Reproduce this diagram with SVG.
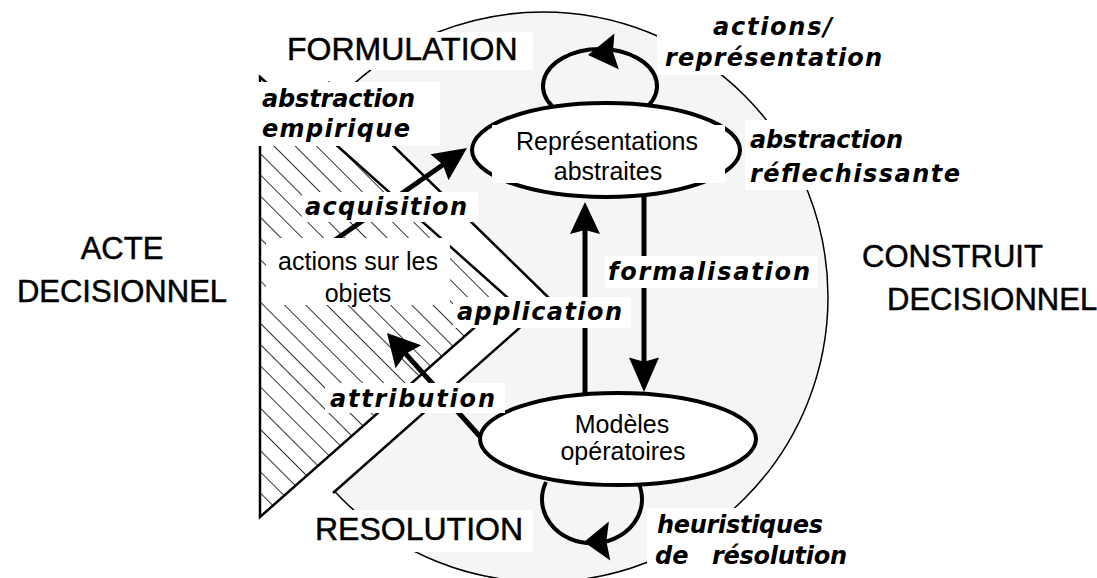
<svg xmlns="http://www.w3.org/2000/svg" width="1097" height="578" viewBox="0 0 1097 578">
<style>
.lbl{font-family:"DejaVu Sans",sans-serif;font-weight:bold;font-style:italic;font-size:24px;fill:#000}
.big{font-family:"Liberation Sans",Arial,sans-serif;font-size:32px;fill:#000;stroke:#000;stroke-width:0.5}
.big31{font-family:"Liberation Sans",Arial,sans-serif;font-size:31px;fill:#000;stroke:#000;stroke-width:0.5}
.node{font-family:"Liberation Sans",Arial,sans-serif;font-size:25px;fill:#000;text-anchor:middle}
.box{fill:#fff}
.ell{fill:#fff;stroke:#000;stroke-width:4}
.conn{fill:none;stroke:#000;stroke-width:5}
.loop{fill:none;stroke:#000;stroke-width:4}
.edge{fill:none;stroke:#000;stroke-width:2.5}
.ah{fill:#000}
</style>
<defs>
<pattern id="hatch" patternUnits="userSpaceOnUse" width="15" height="15" patternTransform="rotate(-45)">
<rect width="15" height="15" fill="#fff"/>
<line x1="0" y1="0" x2="0" y2="15" stroke="#000" stroke-width="1.6"/>
</pattern>
<path id="ah" d="M0,0 L-32,-15 L-28,0 L-32,15 Z"/>
</defs>
<rect width="1097" height="578" fill="#fff"/>

<g id="construit-region">
<circle cx="543" cy="297" r="285" fill="#f5f5f5" stroke="#000" stroke-width="1.5"/>
<polygon points="328,82 551,300 333,493 250,493 250,82" fill="#fff"/>
</g>

<g id="acte-region">
<polygon points="260,77 508,298 260,517" fill="url(#hatch)" stroke="#000" stroke-width="2.5"/>
<polyline class="edge" points="328,82 551,300 333,493"/>
</g>

<g id="connectors">
<path class="loop" d="M552,106 A57,37 0 1 1 648,106"/>
<path class="loop" d="M546,482 A50,44 0 1 0 638,482"/>
<use href="#ah" class="ah" transform="translate(588,55) rotate(173) scale(0.9,1.2)"/>
<use href="#ah" class="ah" transform="translate(584,542) rotate(178) scale(0.8,1.3)"/>
<line class="conn" x1="585" y1="396" x2="585" y2="226"/>
<use href="#ah" class="ah" transform="translate(585,202) rotate(-90)"/>
<line class="conn" x1="644" y1="193" x2="644" y2="366"/>
<use href="#ah" class="ah" transform="translate(644,392) rotate(90) scale(1.08,1)"/>
<line class="conn" x1="335" y1="240" x2="447.3" y2="161.8"/>
<use href="#ah" class="ah" transform="translate(467,148) rotate(-35) scale(1.05,1.05)"/>
<line class="conn" stroke-width="6" x1="484" y1="441" x2="403" y2="350.8"/>
<use href="#ah" class="ah" transform="translate(387,333) rotate(228) scale(1,1.15)"/>
</g>

<g id="node-representations">
<ellipse class="ell" cx="606" cy="150" rx="134" ry="47"/>
<rect class="box" x="492" y="125" width="233" height="58"/>
<text class="node" x="607" y="150">Représentations</text>
<text class="node" x="608" y="180">abstraites</text>
</g>

<g id="node-modeles">
<ellipse class="ell" cx="618" cy="439" rx="138" ry="46"/>
<text class="node" x="622" y="433">Modèles</text>
<text class="node" x="623" y="460">opératoires</text>
</g>

<g id="node-actions-objets">
<rect class="box" x="266" y="238" width="184" height="67"/>
<text class="node" x="358" y="270">actions sur les</text>
<text class="node" x="358" y="302">objets</text>
</g>

<g id="label-formulation">
<rect class="box" x="283" y="32" width="250" height="38"/>
<text class="big" x="287" y="60">FORMULATION</text>
</g>
<g id="label-resolution">
<rect class="box" x="312" y="510" width="221" height="42"/>
<text class="big" x="315" y="540">RESOLUTION</text>
</g>
<g id="label-acte">
<text class="big31" x="122" y="259" text-anchor="middle">ACTE</text>
<text class="big31" x="122" y="302" text-anchor="middle">DECISIONNEL</text>
</g>
<g id="label-construit">
<text class="big31" x="862" y="267">CONSTRUIT</text>
<text class="big31" x="887" y="310">DECISIONNEL</text>
</g>

<g id="label-abstraction-empirique">
<rect class="box" x="257" y="82" width="183" height="64"/>
<text class="lbl" x="262" y="107" textLength="153" lengthAdjust="spacing">abstraction</text>
<text class="lbl" x="262" y="137" textLength="148" lengthAdjust="spacing">empirique</text>
</g>
<g id="label-acquisition">
<rect class="box" x="302" y="192" width="176" height="30"/>
<text class="lbl" x="305" y="215" textLength="162" lengthAdjust="spacing">acquisition</text>
</g>
<g id="label-application">
<rect class="box" x="453" y="297" width="178" height="31"/>
<text class="lbl" x="457" y="320" textLength="165" lengthAdjust="spacing">application</text>
</g>
<g id="label-formalisation">
<rect class="box" x="605" y="256" width="213" height="32"/>
<text class="lbl" x="608" y="280" textLength="202" lengthAdjust="spacing">formalisation</text>
</g>
<g id="label-attribution">
<rect class="box" x="325" y="383" width="180" height="30"/>
<text class="lbl" x="330" y="407" textLength="165" lengthAdjust="spacing">attribution</text>
</g>
<g id="label-actions-representation">
<rect class="box" x="657" y="4" width="233" height="71"/>
<text class="lbl" x="713" y="35" textLength="119" lengthAdjust="spacing">actions/</text>
<text class="lbl" x="665" y="66" textLength="217" lengthAdjust="spacing">représentation</text>
</g>
<g id="label-abstraction-reflechissante">
<rect class="box" x="745" y="120" width="223" height="70"/>
<text class="lbl" x="750" y="148" textLength="153" lengthAdjust="spacing">abstraction</text>
<text class="lbl" x="750" y="182" textLength="210" lengthAdjust="spacing">réflechissante</text>
</g>
<g id="label-heuristiques">
<rect class="box" x="647" y="508" width="215" height="70"/>
<text class="lbl" x="657" y="533" textLength="166" lengthAdjust="spacing">heuristiques</text>
<text class="lbl" y="564"><tspan x="655">de</tspan><tspan x="712" textLength="135" lengthAdjust="spacing">résolution</tspan></text>
</g>
</svg>
